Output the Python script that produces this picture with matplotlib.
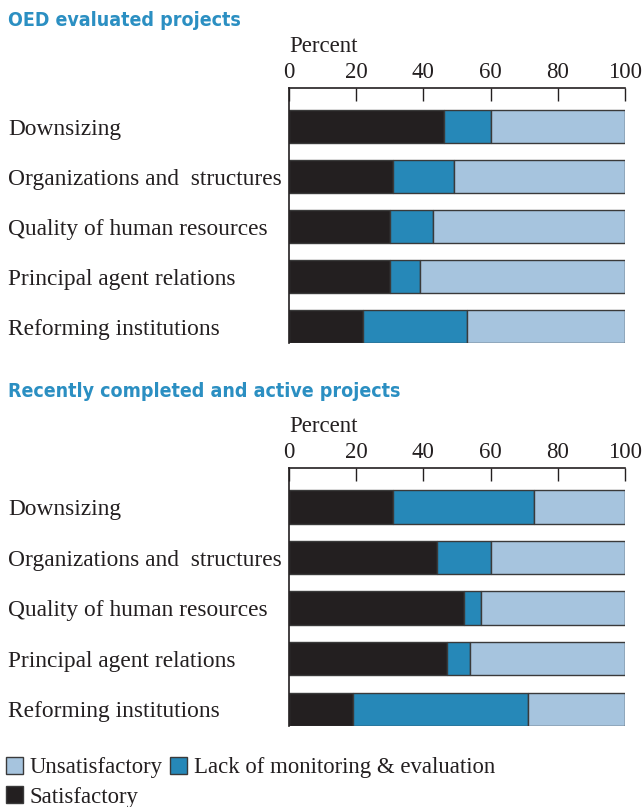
import matplotlib
matplotlib.use("Agg")
import matplotlib.pyplot as plt
from matplotlib.patches import Patch

# data (percent of projects)
categories = ["Downsizing", "Organizations and  structures", "Quality of human resources",
              "Principal agent relations", "Reforming institutions"]

oed_satisfactory = [46, 31, 30, 30, 22]
oed_lack_me = [14, 18, 13, 9, 31]
oed_unsatisfactory = [40, 51, 57, 61, 47]

recent_satisfactory = [31, 44, 52, 47, 19]
recent_lack_me = [42, 16, 5, 7, 52]
recent_unsatisfactory = [27, 40, 43, 46, 29]

panel_titles = ["OED evaluated projects", "Recently completed and active projects"]
xticks = [0, 20, 40, 60, 80, 100]

c_sat = "#231f20"
c_lack = "#2688b8"
c_unsat = "#a6c4de"
c_title = "#2b8fc2"
c_text = "#231f20"

serif = ["Liberation Serif", "DejaVu Serif"]
narrow = ["DejaVu Sans"]

W, H = 644, 807
fig = plt.figure(figsize=(W / 100, H / 100), dpi=100)


def panel(top_px, bottom_px, title_y, sat, lack, unsat, title):
    ax = fig.add_axes([289 / W, 1 - bottom_px / H, 336 / W, (bottom_px - top_px) / H])
    y = list(range(len(categories)))
    kw = dict(height=0.66, edgecolor="#3a3a3a", linewidth=1.0)
    ax.barh(y, sat, color=c_sat, **kw)
    ax.barh(y, lack, left=sat, color=c_lack, **kw)
    left3 = [s + l for s, l in zip(sat, lack)]
    ax.barh(y, unsat, left=left3, color=c_unsat, **kw)

    ax.set_xlim(0, 100)
    ax.set_ylim(4.33, -0.77)
    ax.xaxis.tick_top()
    ax.set_xticks(xticks)
    ax.set_xticklabels([str(t) for t in xticks], fontfamily=serif, fontsize=16.5, color=c_text)
    ax.tick_params(axis="x", direction="in", length=9.5, width=1, pad=3.8, color="#231f20")
    ax.xaxis.set_label_position("top")
    ax.set_xlabel("Percent", loc="left", fontfamily=serif, fontsize=16.5, color=c_text, labelpad=7)

    ax.set_yticks(y)
    ax.set_yticklabels(categories, fontfamily=serif, fontsize=16.8, color=c_text, ha="left")
    ax.tick_params(axis="y", length=0, pad=(289 - 8) * 0.72)

    for s in ["right", "bottom"]:
        ax.spines[s].set_visible(False)
    for s in ["left", "top"]:
        ax.spines[s].set_linewidth(1.2)
        ax.spines[s].set_color("#231f20")

    fig.text(8 / W, 1 - title_y / H, title, fontfamily=narrow, fontweight="bold",
             fontstretch="condensed", fontsize=14, color=c_title, va="baseline", ha="left")
    return ax


panel(88, 343, 26, oed_satisfactory, oed_lack_me, oed_unsatisfactory, panel_titles[0])
panel(468, 726, 397, recent_satisfactory, recent_lack_me, recent_unsatisfactory, panel_titles[1])

handles = [Patch(facecolor=c_unsat, edgecolor="#3a3a3a", label="Unsatisfactory"),
           Patch(facecolor=c_sat, edgecolor="#3a3a3a", label="Satisfactory"),
           Patch(facecolor=c_lack, edgecolor="#3a3a3a", label="Lack of monitoring & evaluation")]
fig.legend(handles=handles, loc="upper left", bbox_to_anchor=(6 / W, 1 - 757 / H), ncol=2,
           frameon=False, borderaxespad=0, borderpad=0, handlelength=0.75, handleheight=0.75,
           handletextpad=0.3, columnspacing=0.3, labelspacing=0.35,
           prop={"family": serif, "size": 16.4}, labelcolor=c_text)

fig.savefig("out.png", dpi=100)
